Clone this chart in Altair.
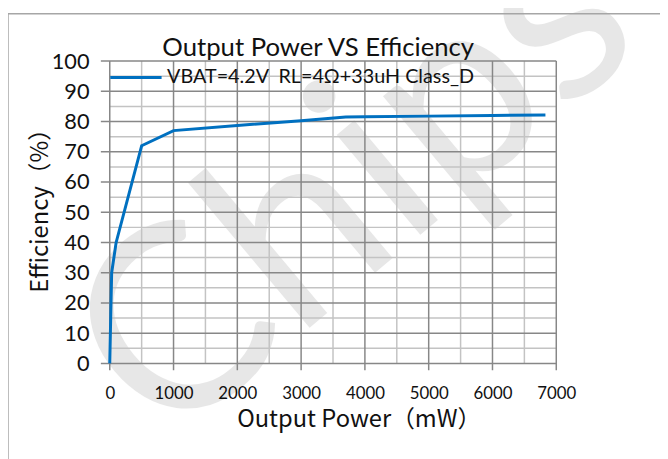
import altair as alt
import pandas as pd

# data
power_mw = [0, 30, 100, 500, 1000, 2000, 3000, 3700, 4000, 5000, 6000, 6830]
efficiency = [0, 30, 40, 72, 77, 78.7, 80.3, 81.5, 81.6, 81.8, 82.0, 82.2]
series_name = "VBAT=4.2V\u00a0 RL=4Ω+33uH Class_D"

x_ticks = [0, 1000, 2000, 3000, 4000, 5000, 6000, 7000]
y_ticks = [0, 10, 20, 30, 40, 50, 60, 70, 80, 90, 100]
x_minor = [500, 1500, 2500, 3500, 4500, 5500, 6500]
y_minor = [5, 15, 25, 35, 45, 55, 65, 75, 85, 95]

title_text = "Output Power VS Efficiency"
x_title = "Output Power（mW）"
y_title = "Efficiency（%）"
watermark = "Chips"

W, H = 452, 306
MAJOR = "#878787"
MINOR = "#c3c3c3"

df = pd.DataFrame({"power": power_mw, "eff": efficiency, "series": series_name})

xscale = alt.Scale(domain=[0, 7000], nice=False, zero=False)
yscale = alt.Scale(domain=[0, 100], nice=False, zero=False)

xaxis = alt.Axis(values=x_ticks, format="d", grid=False, domain=False,
                 ticks=True, tickOpacity=0, tickSize=7,
                 labelFont="Lato", labelFontSize=17, labelColor="#111",
                 labelPadding=16, title=x_title, titleFont="Noto Sans CJK SC",
                 titleFontSize=24, titleFontWeight="normal", titleColor="#111",
                 titleX=252, titleY=57, titleBaseline="middle", titleAlign="center",
                 labelFlush=False)
yaxis = alt.Axis(values=y_ticks, format="d", grid=False, domain=False,
                 ticks=True, tickOpacity=0, tickSize=9,
                 labelFont="Lato", labelFontSize=22, labelColor="#111",
                 labelPadding=12, title=y_title, titleFont="Noto Sans CJK SC",
                 titleFontSize=24, titleFontWeight="normal", titleColor="#111",
                 titleX=-70, titleY=145, titleBaseline="middle", titleAlign="center",
                 titleAngle=270)


def vlines(values, color, y2):
    return alt.Chart(pd.DataFrame({"v": values})).mark_rect(
        color=color, width=1.5
    ).encode(x=alt.X("v:Q", scale=xscale, axis=xaxis),
             y=alt.value(0), y2=alt.value(y2))


def hlines(values, color, x1):
    return alt.Chart(pd.DataFrame({"w": values})).mark_rect(
        color=color, height=1.5
    ).encode(y=alt.Y("w:Q", scale=yscale, axis=yaxis),
             x=alt.value(x1), x2=alt.value(W))


wm = alt.Chart(pd.DataFrame({"t": [watermark]})).mark_text(
    font="Lato", fontSize=260, color="#000", opacity=0.09, angle=320,
    align="center", baseline="middle"
).encode(text="t:N", x=alt.value(250), y=alt.value(128))

minor_x = vlines(x_minor, MINOR, H)
minor_y = hlines(y_minor, MINOR, 0)
major_x = vlines(x_ticks, MAJOR, H + 7)
major_y = hlines(y_ticks, MAJOR, -9)

line = alt.Chart(df).mark_line(strokeWidth=3).encode(
    x=alt.X("power:Q", scale=xscale, axis=xaxis),
    y=alt.Y("eff:Q", scale=yscale, axis=yaxis),
    color=alt.Color("series:N", scale=alt.Scale(range=["#0070c0"]),
                    legend=alt.Legend(orient="none", legendX=-1, legendY=-11, title=None,
                                      symbolType="stroke", symbolSize=2700,
                                      symbolStrokeWidth=3, labelFont="Lato",
                                      labelFontSize=20, labelColor="#111",
                                      labelLimit=500, labelOffset=4, padding=0)),
)

title = alt.Chart(pd.DataFrame({"t": [title_text]})).mark_text(
    font="Lato", fontSize=26, color="#111", align="center", baseline="middle"
).encode(text="t:N", x=alt.value(211), y=alt.value(-13))

frame = alt.Chart(pd.DataFrame({"a": [0]})).mark_rect(
    fill="transparent", stroke="#a6a6a6", strokeWidth=1.5
).encode(x=alt.value(-103), x2=alt.value(620), y=alt.value(-48), y2=alt.value(460))

chart = alt.layer(wm, frame, minor_x, minor_y, major_x, major_y, line, title).properties(
    width=W, height=H,
    autosize=alt.AutoSizeParams(type="none"),
    padding={"left": 103, "top": 51, "right": 105, "bottom": 94},
).configure_view(stroke=None)

chart.save("out.html", embed_options={"renderer": "svg", "actions": False})
